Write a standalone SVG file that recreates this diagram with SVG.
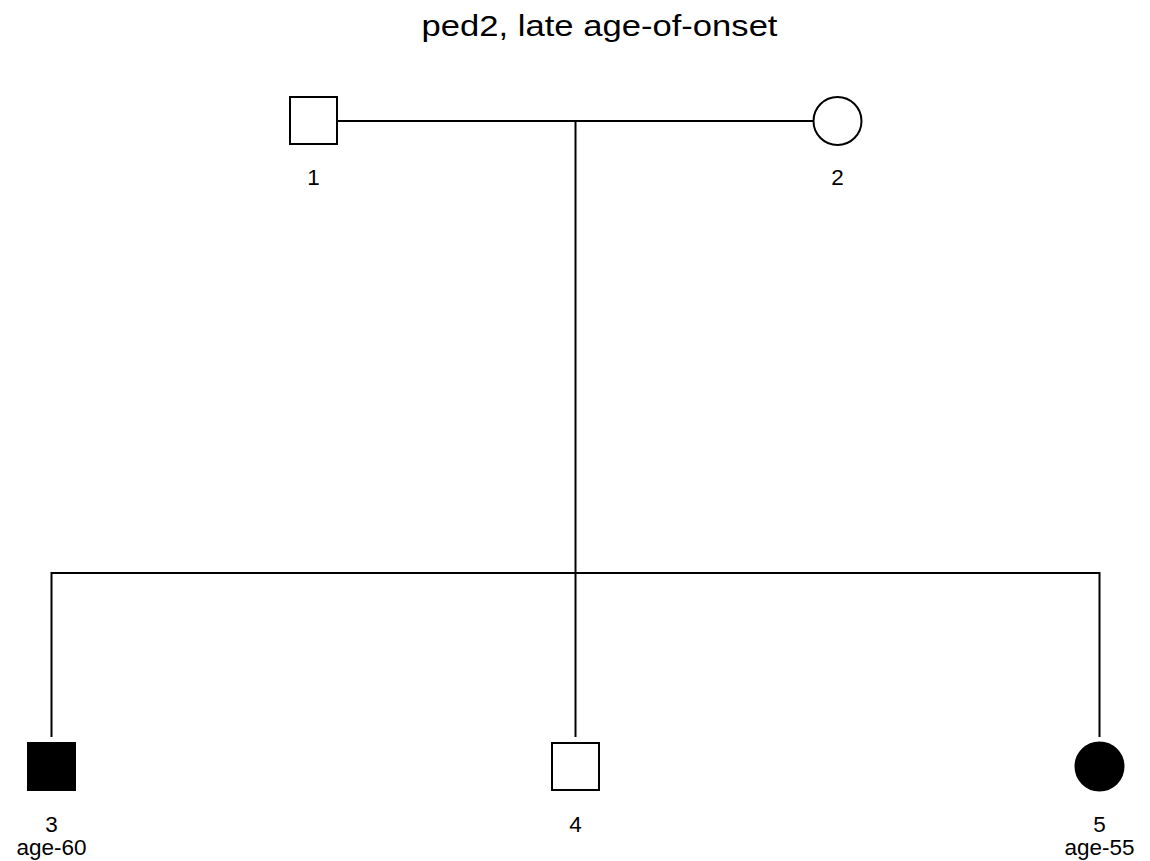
<svg xmlns="http://www.w3.org/2000/svg" width="1150" height="861" viewBox="0 0 1150 861">
<style>
text{font-family:"Liberation Sans",Arial,sans-serif;fill:#000;text-anchor:middle}
.t{font-size:30px}
.l{font-size:22.5px}
.ln{stroke:#000;stroke-width:2;fill:none}
.sym{stroke:#000;stroke-width:2;fill:#fff}
.aff{stroke:#000;stroke-width:2;fill:#000}
</style>
<rect width="1150" height="861" fill="#fff"/>
<text class="t" x="599.5" y="35.5" textLength="356" lengthAdjust="spacingAndGlyphs">ped2, late age-of-onset</text>
<g id="connectors">
<line class="ln" x1="337" y1="121" x2="814" y2="121"/>
<line class="ln" x1="575.5" y1="121" x2="575.5" y2="573"/>
<line class="ln" x1="51" y1="573" x2="1099.5" y2="573"/>
<line class="ln" x1="51.5" y1="572" x2="51.5" y2="737"/>
<line class="ln" x1="575.5" y1="573" x2="575.5" y2="737"/>
<line class="ln" x1="1099.5" y1="572" x2="1099.5" y2="737"/>
</g>
<g id="n1"><rect class="sym" x="290" y="97" width="47" height="47"/><text class="l" x="313.5" y="185">1</text></g>
<g id="n2"><circle class="sym" cx="837.5" cy="121" r="24"/><text class="l" x="837.5" y="185">2</text></g>
<g id="n3"><rect class="aff" x="28" y="743" width="47" height="47"/><text class="l" x="51.5" y="832">3</text><text class="l" x="51.5" y="855">age-60</text></g>
<g id="n4"><rect class="sym" x="552" y="743" width="47" height="47"/><text class="l" x="575.5" y="832">4</text></g>
<g id="n5"><circle class="aff" cx="1099.5" cy="766.5" r="24"/><text class="l" x="1099.5" y="832">5</text><text class="l" x="1099.5" y="855">age-55</text></g>
</svg>
